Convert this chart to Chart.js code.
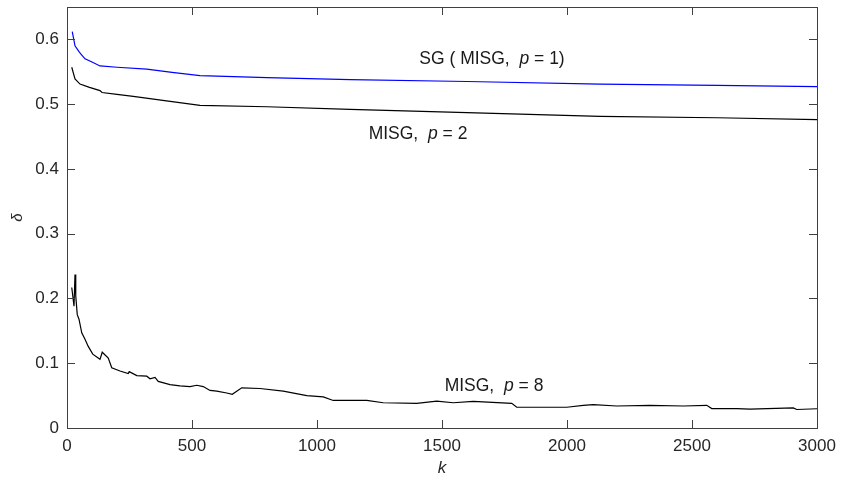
<!DOCTYPE html>
<html>
<head>
<meta charset="utf-8">
<script src="https://cdn.jsdelivr.net/npm/chart.js@4.4.1/dist/chart.umd.min.js"></script>
<style>
  html, body { margin: 0; padding: 0; background: #fff; }
  #wrap { width: 841px; height: 484px; }
</style>
</head>
<body>
<div id="wrap"><canvas id="deltaChart" width="841" height="484"></canvas></div>
<script>
  // values
  var kP1 = [21, 32, 50, 72, 100, 132, 200, 319, 420, 532, 800, 1132, 1600, 2132, 2600, 3000];
  var deltaP1 = [0.612, 0.590, 0.580, 0.570, 0.565, 0.559, 0.557, 0.554, 0.549, 0.544, 0.541, 0.538, 0.535, 0.531, 0.529, 0.527];

  var kP2 = [19, 32, 52, 90, 132, 140, 200, 265, 398, 532, 800, 1132, 1600, 2132, 2600, 3000];
  var deltaP2 = [0.557, 0.539, 0.531, 0.526, 0.521, 0.518, 0.515, 0.512, 0.505, 0.498, 0.496, 0.492, 0.487, 0.481, 0.479, 0.476];

  var kP8 = [19, 28, 32, 35, 41, 48, 59, 72, 85, 103, 132, 141, 165, 179, 212, 245, 249, 279, 319, 332, 352, 365, 412, 452,
    492, 519, 545, 572, 599, 639, 661, 699, 772, 865, 959, 1025, 1065, 1199, 1265, 1399, 1479, 1545, 1625, 1779, 1799,
    1932, 1999, 2065, 2105, 2199, 2332, 2465, 2559, 2579, 2679, 2732, 2905, 2919, 3000];
  var deltaP8 = [0.217, 0.188, 0.237, 0.204, 0.175, 0.168, 0.147, 0.137, 0.126, 0.114, 0.106, 0.117, 0.108, 0.093, 0.088, 0.084, 0.087, 0.081, 0.080, 0.076, 0.078, 0.072, 0.067, 0.065,
    0.064, 0.066, 0.064, 0.058, 0.057, 0.054, 0.052, 0.062, 0.061, 0.057, 0.050, 0.048, 0.0425, 0.0425, 0.039, 0.038, 0.0415, 0.039, 0.041, 0.038, 0.032,
    0.032, 0.032, 0.035, 0.036, 0.034, 0.035, 0.034, 0.035, 0.030, 0.030, 0.029, 0.031, 0.0286, 0.0297];

  var xTicks = [0, 500, 1000, 1500, 2000, 2500, 3000];
  var yTicks = [0, 0.1, 0.2, 0.3, 0.4, 0.5, 0.6];

  // curve labels: [normal text before p, normal text after p, k position, delta position]
  var curveLabels = [
    ['SG ( MISG,  ', ' = 1)', 1700, 0.570],
    ['MISG,  ', ' = 2', 1404, 0.454],
    ['MISG,  ', ' = 8', 1708, 0.064]
  ];

  function toPoints(xs, ys) {
    return xs.map(function (x, i) { return { x: x, y: ys[i] }; });
  }

  var axisColor = '#404040';
  var textColor = '#262626';
  var fontFamily = '"Liberation Sans", Arial, Helvetica, sans-serif';

  // box around plot + inward ticks on all 4 sides (matlab style)
  var boxPlugin = {
    id: 'boxPlugin',
    afterDraw: function (chart) {
      var ctx = chart.ctx;
      var a = chart.chartArea;
      var xs = chart.scales.x, ys = chart.scales.y;
      ctx.save();
      ctx.strokeStyle = axisColor;
      ctx.lineWidth = 1;
      ctx.strokeRect(a.left + 0.5, a.top + 0.5, a.right - a.left, a.bottom - a.top);
      ctx.beginPath();
      xTicks.forEach(function (v) {
        var px = Math.round(xs.getPixelForValue(v)) + 0.5;
        ctx.moveTo(px, a.bottom); ctx.lineTo(px, a.bottom - 8);
        ctx.moveTo(px, a.top); ctx.lineTo(px, a.top + 8);
      });
      yTicks.forEach(function (v) {
        var py = Math.round(ys.getPixelForValue(v)) + 0.5;
        ctx.moveTo(a.left, py); ctx.lineTo(a.left + 8, py);
        ctx.moveTo(a.right, py); ctx.lineTo(a.right - 8, py);
      });
      ctx.stroke();

      // text labels beside each curve
      ctx.fillStyle = '#1a1a1a';
      ctx.textBaseline = 'middle';
      curveLabels.forEach(function (lab) {
        var normalFont = '17.5px ' + fontFamily;
        var italicFont = 'italic 17.5px ' + fontFamily;
        ctx.font = normalFont;
        var w1 = ctx.measureText(lab[0]).width;
        var w3 = ctx.measureText(lab[1]).width;
        ctx.font = italicFont;
        var w2 = ctx.measureText('p').width;
        var cx = xs.getPixelForValue(lab[2]);
        var cy = ys.getPixelForValue(lab[3]);
        var x0 = cx - (w1 + w2 + w3) / 2;
        ctx.textAlign = 'left';
        ctx.font = normalFont;
        ctx.fillText(lab[0], x0, cy);
        ctx.font = italicFont;
        ctx.fillText('p', x0 + w1, cy);
        ctx.font = normalFont;
        ctx.fillText(lab[1], x0 + w1 + w2, cy);
      });
      ctx.restore();
    }
  };

  var ctx = document.getElementById('deltaChart').getContext('2d');
  var deltaChart = new Chart(ctx, {
    type: 'line',
    data: {
      datasets: [
        { label: 'p=1', data: toPoints(kP1, deltaP1), borderColor: '#0000ff', borderWidth: 1.2 },
        { label: 'p=2', data: toPoints(kP2, deltaP2), borderColor: '#000000', borderWidth: 1.2 },
        { label: 'p=8', data: toPoints(kP8, deltaP8), borderColor: '#000000', borderWidth: 1.2 }
      ]
    },
    options: {
      responsive: false,
      animation: false,
      parsing: false,
      elements: { point: { radius: 0 }, line: { tension: 0 } },
      layout: { padding: { top: 7, right: 24, left: 0, bottom: 0 } },
      plugins: {
        legend: { display: false },
        tooltip: { enabled: false }
      },
      scales: {
        x: {
          type: 'linear',
          min: 0,
          max: 3000,
          afterFit: function (scale) {
            scale.height = 56;
            scale.paddingLeft = 0;
            scale.paddingRight = 0;
          },
          grid: { display: false, drawTicks: false },
          border: { display: false },
          ticks: {
            stepSize: 500,
            padding: 8,
            color: textColor,
            font: { family: fontFamily, size: 17 },
            maxRotation: 0,
            callback: function (v) { return String(v); }
          },
          title: {
            display: true,
            text: 'k',
            color: textColor,
            padding: { top: 0, bottom: 6 },
            font: { family: fontFamily, size: 17, style: 'italic' }
          }
        },
        y: {
          min: 0,
          max: 0.65,
          afterFit: function (scale) {
            scale.width = 67;
            scale.paddingTop = 0;
            scale.paddingBottom = 0;
          },
          grid: { display: false, drawTicks: false },
          border: { display: false },
          ticks: {
            stepSize: 0.1,
            includeBounds: false,
            padding: 8,
            color: textColor,
            font: { family: fontFamily, size: 17 },
            callback: function (v) { return String(+v.toFixed(2)); }
          },
          title: {
            display: true,
            text: 'δ',
            color: textColor,
            padding: { top: 9, bottom: 0 },
            font: { family: fontFamily, size: 15, style: 'italic' }
          }
        }
      }
    },
    plugins: [boxPlugin]
  });
</script>
</body>
</html>
